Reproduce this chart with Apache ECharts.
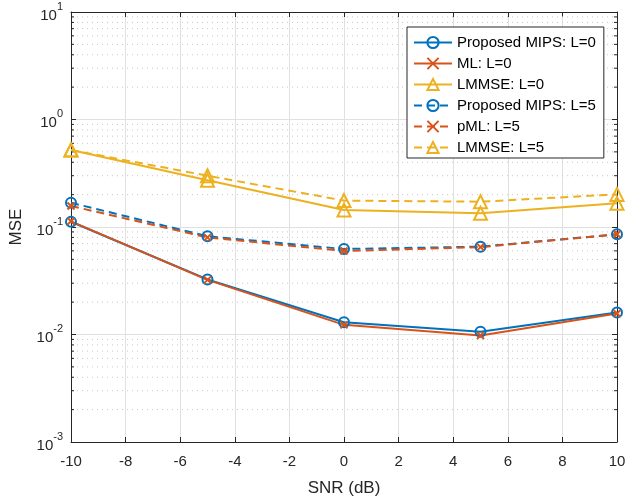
<!DOCTYPE html>
<html>
<head>
<meta charset="utf-8">
<script src="https://cdn.jsdelivr.net/npm/echarts@6/dist/echarts.min.js"></script>
<style>html,body{margin:0;padding:0;background:#fff}#c{width:626px;height:497px}</style>
</head>
<body>
<div id="c"></div>
<script>
const snr = [-10, -5, 0, 5, 10];
const mipsL0 = [0.112, 0.0325, 0.0130, 0.0106, 0.0160];
const mlL0 = [0.113, 0.0322, 0.0123, 0.0098, 0.0157];
const lmmseL0 = [0.52, 0.272, 0.144, 0.134, 0.166];
const mipsL5 = [0.168, 0.082, 0.0624, 0.0656, 0.0855];
const pmlL5 = [0.157, 0.080, 0.0598, 0.0650, 0.0855];
const lmmseL5 = [0.52, 0.30, 0.176, 0.172, 0.201];
const names = ['Proposed MIPS: L=0', 'ML: L=0', 'LMMSE: L=0', 'Proposed MIPS: L=5', 'pML: L=5', 'LMMSE: L=5'];

const BLUE = '#0072BD', RED = '#D95319', YEL = '#EDB120';
const AX = '#262626';
const FONT = 'Liberation Sans, Arial, Helvetica, sans-serif';
const xPath = 'path://M0,0L10,10M10,0L0,10';

const minorVals = [];
[0.001, 0.01, 0.1, 1].forEach(d => { for (let k = 2; k <= 9; k++) minorVals.push([-10, +(d * k).toPrecision(3)]); });

function mk(name, data, color, dashed, sym, size) {
  return {
    name, type: 'line', data: snr.map((x, i) => [x, data[i]]),
    symbol: sym, symbolSize: size, showAllSymbol: true,
    lineStyle: { color, width: 2, type: dashed ? [8, 5] : 'solid' },
    itemStyle: { color: 'rgba(255,255,255,0)', borderColor: color, borderWidth: 2 },
    emphasis: { disabled: true }, z: 5, animation: false
  };
}

const chart = echarts.init(document.getElementById('c'));
chart.setOption({
  animation: false,
  textStyle: { fontFamily: FONT },
  grid: { left: 71, right: 9, top: 12, bottom: 55, containLabel: false, outerBoundsMode: 'none' },
  legend: {
    data: names, orient: 'vertical', left: 407, top: 27,
    backgroundColor: '#fff', borderColor: AX, borderWidth: 1,
    padding: [8, 8, 3, 6], itemGap: 6, itemWidth: 38, itemHeight: 14,
    textStyle: { fontSize: 15, color: '#000', fontFamily: FONT }
  },
  xAxis: [{
    type: 'value', min: -10, max: 10, interval: 2,
    name: 'SNR (dB)', nameLocation: 'middle', nameGap: 38,
    nameTextStyle: { fontSize: 17, color: AX },
    axisLine: { onZero: false, lineStyle: { color: AX } },
    axisTick: { inside: true, length: 5, lineStyle: { color: AX } },
    axisLabel: { fontSize: 15, color: AX, margin: 12 },
    splitLine: { show: true, lineStyle: { color: '#e0e0e0', width: 1 } }
  }, {
    type: 'value', min: -10, max: 10, interval: 2, position: 'top',
    axisLine: { onZero: false, lineStyle: { color: AX } },
    axisTick: { inside: true, length: 5, lineStyle: { color: AX } },
    axisLabel: { show: false }, splitLine: { show: false }
  }],
  yAxis: [{
    type: 'log', logBase: 10, min: 0.001, max: 10,
    name: 'MSE', nameLocation: 'middle', nameGap: 46,
    nameTextStyle: { fontSize: 17, color: AX },
    axisLine: { onZero: false, lineStyle: { color: AX } },
    axisTick: { inside: true, length: 5, lineStyle: { color: AX } },
    axisLabel: {
      color: AX, margin: 8,
      formatter: v => '{b|10}{s|' + Math.round(Math.log10(v)) + '}',
      rich: {
        b: { fontSize: 15, color: AX, lineHeight: 22, verticalAlign: 'bottom', fontFamily: FONT },
        s: { fontSize: 11, color: AX, lineHeight: 14, verticalAlign: 'top', fontFamily: FONT }
      }
    },
    splitLine: { show: true, lineStyle: { color: '#e0e0e0', width: 1 } }
  }, {
    type: 'log', logBase: 10, min: 0.001, max: 10, position: 'right',
    axisLine: { onZero: false, lineStyle: { color: AX } },
    axisTick: { inside: true, length: 5, lineStyle: { color: AX } },
    axisLabel: { show: false }, splitLine: { show: false }
  }],
  series: [
    {
      type: 'custom', silent: true, z: 1, data: minorVals, encode: { x: 0, y: 1 },
      renderItem: (params, api) => {
        const v = api.value(1);
        const p = api.coord([-10, v]);
        const q = api.coord([10, v]);
        return {
          type: 'group', children: [
            { type: 'line', shape: { x1: p[0] + 1, y1: p[1], x2: q[0] - 1, y2: q[1] }, style: { stroke: '#c8c8c8', lineWidth: 1, lineDash: [1, 4] } },
            { type: 'line', shape: { x1: p[0], y1: p[1], x2: p[0] + 3, y2: p[1] }, style: { stroke: AX, lineWidth: 1 } },
            { type: 'line', shape: { x1: q[0] - 3, y1: q[1], x2: q[0], y2: q[1] }, style: { stroke: AX, lineWidth: 1 } }
          ]
        };
      }
    },
    mk(names[0], mipsL0, BLUE, false, 'circle', 10),
    mk(names[1], mlL0, RED, false, xPath, 7),
    mk(names[2], lmmseL0, YEL, false, 'triangle', 13),
    mk(names[3], mipsL5, BLUE, true, 'circle', 10),
    mk(names[4], pmlL5, RED, true, xPath, 7),
    mk(names[5], lmmseL5, YEL, true, 'triangle', 13)
  ]
});
</script>
</body>
</html>
